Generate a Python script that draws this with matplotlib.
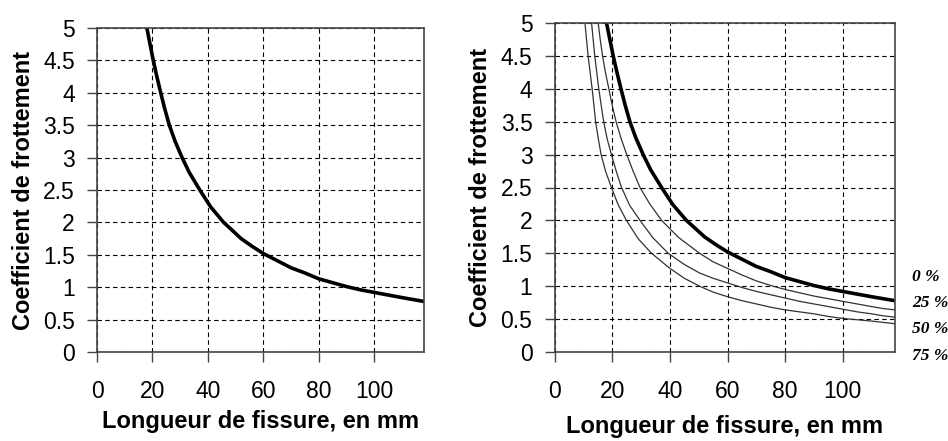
import matplotlib
matplotlib.use("Agg")
import matplotlib.pyplot as plt

# values
x_0 = [18.0, 19.0, 20.3, 21.6, 23.0, 24.4, 26.1, 28.2, 30.7, 33.3, 37.1, 41.0, 45.7, 49.0,
       52.0, 56.0, 60, 65, 70, 75, 80, 85, 90, 95, 100, 105, 110, 114, 118]
y_0 = [5.0, 4.78, 4.5, 4.25, 4.0, 3.76, 3.5, 3.25, 3.0, 2.77, 2.5, 2.24, 2.0, 1.87,
       1.75, 1.63, 1.52, 1.41, 1.3, 1.22, 1.13, 1.07, 1.01, 0.96, 0.92, 0.88, 0.84, 0.81, 0.78]

x_25 = [15.1, 15.8, 16.6, 17.6, 18.8, 19.9, 21.3, 23.0, 25.0, 27.2, 29.6, 33.0, 37.1, 43.0,
        50.3, 55.0, 60, 65, 70, 75, 80, 85, 90, 95, 100, 105, 110, 114, 118]
y_25 = [5.0, 4.75, 4.5, 4.25, 4.0, 3.76, 3.5, 3.25, 3.0, 2.75, 2.5, 2.25, 2.0, 1.74,
        1.5, 1.37, 1.27, 1.17, 1.08, 1.01, 0.95, 0.9, 0.85, 0.81, 0.77, 0.73, 0.69, 0.66, 0.64]

x_50 = [12.8, 13.9, 15.3, 16.1, 17.0, 18.2, 19.7, 21.4, 23.2, 26.0, 29.6, 34.0, 39.4, 45.0,
        50.3, 55.0, 60, 65, 70, 75, 80, 85, 90, 95, 100, 105, 110, 114, 118]
y_50 = [5.0, 4.5, 4.0, 3.76, 3.5, 3.24, 3.0, 2.74, 2.5, 2.23, 2.0, 1.74, 1.5, 1.33,
        1.2, 1.12, 1.05, 0.98, 0.92, 0.87, 0.82, 0.77, 0.73, 0.69, 0.65, 0.61, 0.58, 0.55, 0.53]

x_75 = [10.5, 11.6, 13.0, 13.6, 14.2, 15.1, 16.1, 17.7, 19.7, 22.0, 24.9, 29.0, 33.6, 40.0,
        45.0, 50.3, 55.0, 60, 65, 70, 75, 80, 85, 90, 95, 100, 105, 110, 114, 118]
y_75 = [5.0, 4.5, 4.0, 3.75, 3.5, 3.25, 3.0, 2.74, 2.5, 2.24, 2.0, 1.72, 1.5, 1.27,
        1.12, 1.0, 0.91, 0.84, 0.78, 0.73, 0.68, 0.64, 0.61, 0.58, 0.54, 0.51, 0.49, 0.47, 0.45, 0.43]

pct_labels = ['0 %', '25 %', '50 %', '75 %']
pct_ypos = [0.229, 0.148, 0.069, -0.012]

xticks = [0, 20, 40, 60, 80, 100]
yticks = [0, 0.5, 1, 1.5, 2, 2.5, 3, 3.5, 4, 4.5, 5]
ytick_labels = ['0', '0.5', '1', '1.5', '2', '2.5', '3', '3.5', '4', '4.5', '5']

plt.rcParams['font.family'] = ['Liberation Sans', 'DejaVu Sans']

fig = plt.figure(figsize=(9.48, 4.41), dpi=100)
ax1 = fig.add_axes([97/948, 89/441, 327/948, 324/441])
ax2 = fig.add_axes([554.7/948, 89/441, 340/948, 329/441])

def style(ax, xpad):
    ax.set_xlim(0, 118)
    ax.set_ylim(0, 5)
    ax.set_xticks(xticks)
    ax.set_yticks(yticks)
    ax.set_yticklabels(ytick_labels)
    ax.tick_params(axis='both', direction='out', length=7, width=1, color='#444444', labelsize=16.5)
    ax.tick_params(axis='y', pad=9)
    ax.tick_params(axis='x', pad=13)
    for s in ax.spines.values():
        s.set_color('#444444')
        s.set_linewidth(1.2)
    ax.grid(True, color='black', linestyle=(0, (4, 3)), linewidth=0.8)
    ax.set_axisbelow(True)
    ax.set_xlabel('Longueur de fissure, en mm', fontsize=17, fontweight='bold', labelpad=xpad)
    ax.set_ylabel('Coefficient de frottement', fontsize=17, fontweight='bold', labelpad=6)

style(ax1, 5)
ax1.plot(x_0, y_0, color='black', linewidth=2.6, solid_capstyle='butt')

style(ax2, 9)
ax2.plot(x_75, y_75, color='#333333', linewidth=0.9)
ax2.plot(x_50, y_50, color='#333333', linewidth=0.9)
ax2.plot(x_25, y_25, color='#333333', linewidth=0.9)
ax2.plot(x_0, y_0, color='black', linewidth=2.6, solid_capstyle='butt')

for lab, yp in zip(pct_labels, pct_ypos):
    ax2.text(1.051, yp, lab, transform=ax2.transAxes, va='center', ha='left',
             family='Liberation Serif', fontweight='bold', fontstyle='italic', fontsize=12.5)

fig.savefig('out.png', dpi=100)
